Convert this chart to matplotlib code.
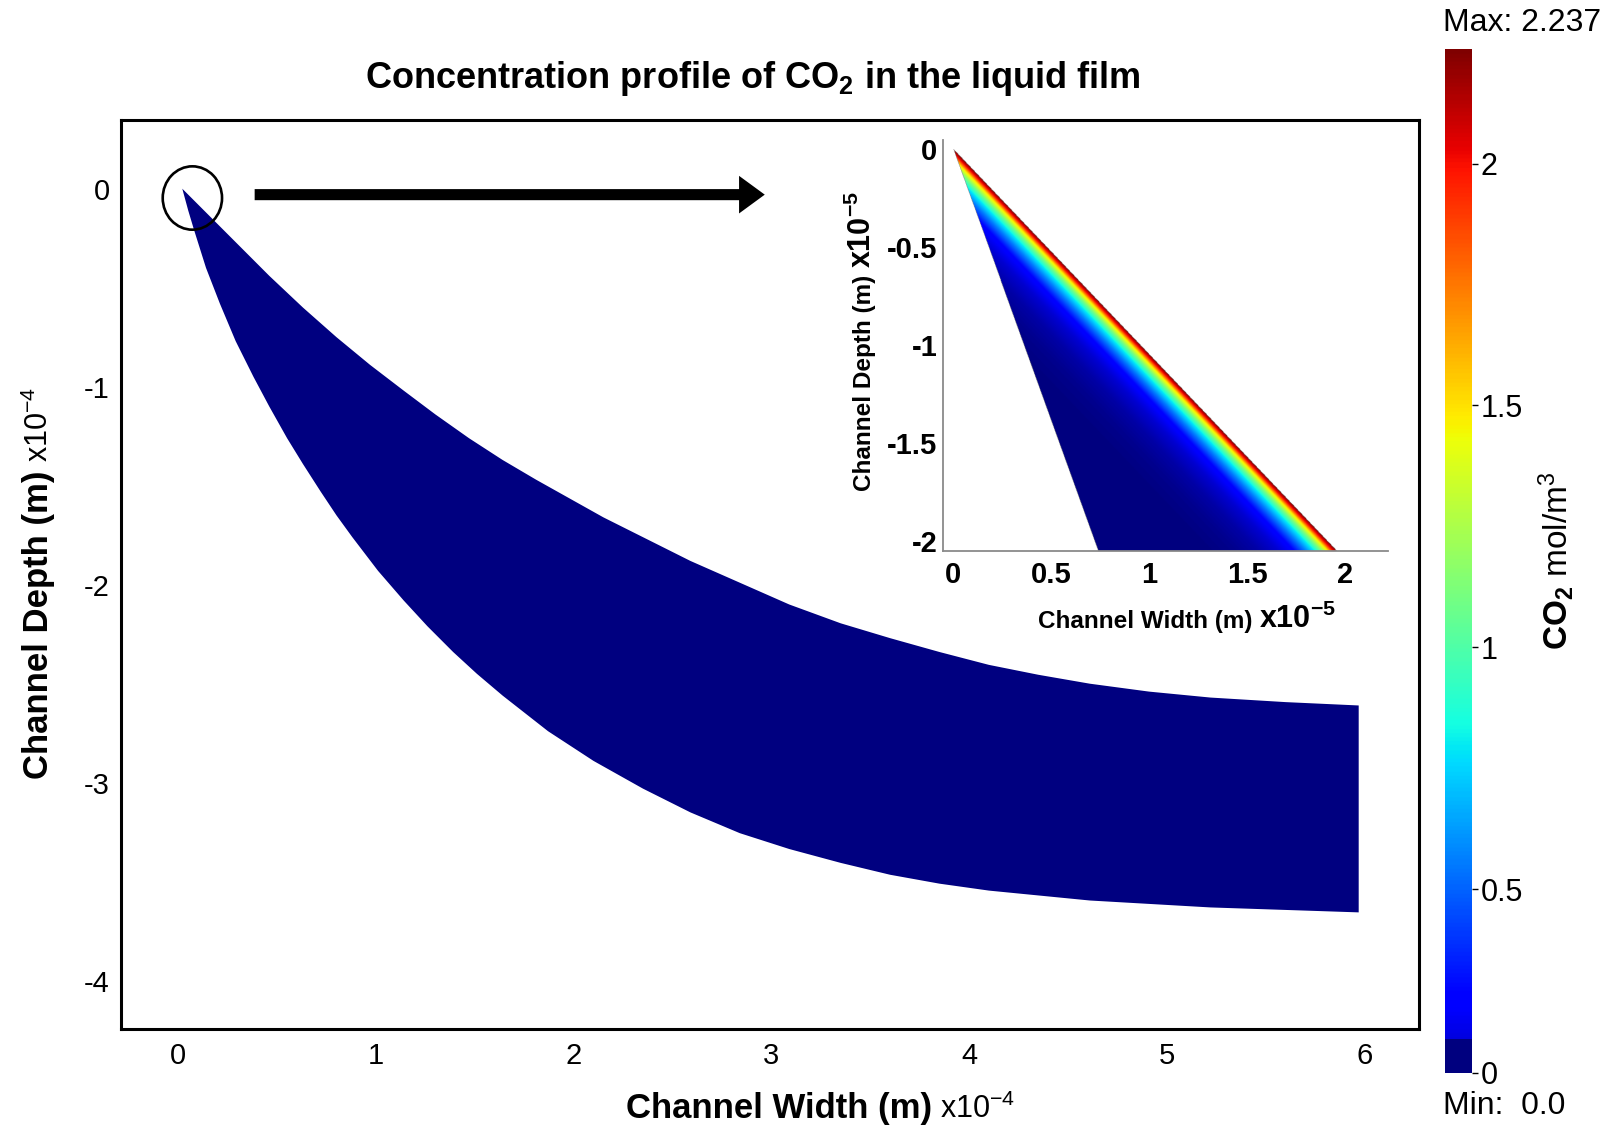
import numpy as np
import matplotlib.pyplot as plt
from matplotlib.patches import Ellipse

plt.rcParams['font.family'] = ['Liberation Sans', 'DejaVu Sans']
plt.rcParams['mathtext.fontset'] = 'custom'
plt.rcParams['mathtext.rm'] = 'Liberation Sans'
plt.rcParams['mathtext.bf'] = 'Liberation Sans:bold'
plt.rcParams['mathtext.it'] = 'Liberation Sans:italic'
plt.rcParams['axes.unicode_minus'] = False

# liquid film boundaries, x and y in units of 1e-4 m
top_x = [0.02, 0.10, 0.20, 0.33, 0.46, 0.63, 0.80, 0.97, 1.14, 1.30, 1.47, 1.64, 1.81, 1.98, 2.15,
         2.37, 2.59, 2.84, 3.09, 3.35, 3.60, 3.85, 4.10, 4.35, 4.61, 4.91, 5.22, 5.60, 5.97]
top_y = [0.0, -0.08, -0.18, -0.31, -0.44, -0.60, -0.75, -0.89, -1.02, -1.14, -1.26, -1.37, -1.47, -1.565, -1.66,
         -1.77, -1.88, -1.99, -2.10, -2.195, -2.27, -2.34, -2.405, -2.455, -2.50, -2.54, -2.57, -2.593, -2.61]
wall_x = [0.02, 0.05, 0.08, 0.14, 0.21, 0.29, 0.38, 0.46, 0.55, 0.63, 0.72, 0.80, 0.88, 1.01, 1.14, 1.26,
          1.39, 1.51, 1.64, 1.87, 2.10, 2.35, 2.59, 2.84, 3.09, 3.35, 3.60, 3.85, 4.10, 4.61, 5.22, 5.97]
wall_y = [0.0, -0.11, -0.21, -0.40, -0.58, -0.77, -0.95, -1.10, -1.26, -1.39, -1.53, -1.65, -1.76, -1.93, -2.08, -2.21,
          -2.34, -2.45, -2.56, -2.74, -2.89, -3.03, -3.15, -3.255, -3.335, -3.405, -3.465, -3.51, -3.545, -3.595, -3.63, -3.655]

# inlet region (inset), units of 1e-5 m
tip_depth = [0.0, 2.05]
tip_interface_x = [0.0, 1.96]
tip_wall_x = [0.0, 0.74]

# CO2 concentration (mol/m3) vs horizontal distance from the interface (1e-5 m)
prof_dist = [0.0, 0.02, 0.045, 0.08, 0.115, 0.16, 0.22, 0.30, 0.40, 0.52, 0.68, 3.0]
prof_conc = [2.237, 2.0, 1.5, 1.1, 0.8, 0.55, 0.27, 0.16, 0.08, 0.03, 0.0, 0.0]

c_min, c_max = 0.0, 2.237
cb_bottom = 0.12     # value at the lower edge of the colour bar
cb_band = 0.19       # top of the dark "min" band
cb_ticks = [0, 0.5, 1, 1.5, 2]

W, H = 1610, 1128
fig = plt.figure(figsize=(W / 100, H / 100), dpi=100)


def box(l, t, r, b):
    return [l / W, 1 - b / H, (r - l) / W, (b - t) / H]


cmap = plt.get_cmap('jet')

# ---- main plot
ax = fig.add_axes(box(121, 120, 1419, 1029))
px = np.concatenate([top_x, wall_x[::-1]])
py = np.concatenate([top_y, wall_y[::-1]])
ax.fill(px, py, color=cmap(0.0), lw=0)
ax.set_xlim(-0.29, 6.275)
ax.set_ylim(-4.244, 0.347)
ax.set_xticks(range(7))
ax.set_yticks([0, -1, -2, -3, -4])
ax.tick_params(length=0, labelsize=21)
ax.tick_params(axis='x', pad=9)
ax.tick_params(axis='y', pad=8)
for s in ax.spines.values():
    s.set_linewidth(2.2)

ax.add_patch(Ellipse((0.071, -0.047), 0.30, 0.32, fill=False, lw=1.9, ec='k'))
ax.arrow(0.386, -0.03, 2.966 - 0.386, 0, width=0.056, head_width=0.19,
         head_length=0.13, length_includes_head=True, fc='k', ec='k', lw=0)

# ---- inset: zoom on the inlet
ins = fig.add_axes(box(943, 140, 1388, 551))
gx = np.linspace(-0.053, 2.22, 800)
gy = np.linspace(-2.05, 0.046, 800)
GX, GY = np.meshgrid(gx, gy)
depth = -GY
xr = np.interp(depth, tip_depth, tip_interface_x)
xl = np.interp(depth, tip_depth, tip_wall_x)
inside = (GX >= xl) & (GX <= xr) & (depth >= 0)
conc = np.interp(xr - GX, prof_dist, prof_conc)
conc = np.ma.masked_where(~inside, conc)
ins.imshow(conc, origin='lower', extent=[gx[0], gx[-1], gy[0], gy[-1]],
           cmap=cmap, vmin=c_min, vmax=c_max, aspect='auto', interpolation='bilinear')
ins.set_xlim(gx[0], gx[-1])
ins.set_ylim(gy[0], gy[-1])
ins.set_xticks([0, 0.5, 1, 1.5, 2])
ins.set_xticklabels(['0', '0.5', '1', '1.5', '2'])
ins.set_yticks([0, -0.5, -1, -1.5, -2])
ins.set_yticklabels(['0', '-0.5', '-1', '-1.5', '-2'])
ins.tick_params(length=0, labelsize=21)
ins.tick_params(axis='x', pad=7)
ins.tick_params(axis='y', pad=4)
for lab in ins.get_xticklabels() + ins.get_yticklabels():
    lab.set_fontweight('bold')
for side in ['top', 'right']:
    ins.spines[side].set_visible(False)
for side in ['left', 'bottom']:
    ins.spines[side].set_color('#8a8a8a')
    ins.spines[side].set_linewidth(1.3)

# ---- colour bar
cax = fig.add_axes(box(1445, 49, 1472, 1073))
ramp = np.linspace(cb_band, c_max, 512)[:, None]
cax.imshow(ramp, origin='lower', extent=[0, 1, cb_band, c_max], aspect='auto',
           cmap=cmap, vmin=c_min, vmax=c_max)
cax.imshow([[c_min]], origin='lower', extent=[0, 1, cb_bottom, cb_band], aspect='auto',
           cmap=cmap, vmin=c_min, vmax=c_max)
cax.set_xlim(0, 1)
cax.set_ylim(cb_bottom, c_max)
cax.set_xticks([])
cax.yaxis.tick_right()
cax.set_yticks([cb_bottom] + cb_ticks[1:])
cax.set_yticklabels([f'{t:g}' for t in cb_ticks])
cax.tick_params(axis='y', length=4, width=1, labelsize=22, pad=2)
for s in cax.spines.values():
    s.set_visible(False)

fig.text(1443 / W, 1 - 23 / H, f'Max: {c_max:.3f}', fontsize=23, ha='left', va='center')
fig.text(1443 / W, 1 - 1106 / H, f'Min:  {c_min:.1f}', fontsize=23, ha='left', va='center')
fig.text(1556 / W, 1 - 561 / H, r'$\mathbf{CO_2}$ mol/m$^3$', fontsize=24,
         rotation=90, ha='center', va='center')

# ---- titles and axis labels
fig.text(753 / W, 1 - 79 / H, r'Concentration profile of CO$_\mathbf{2}$ in the liquid film',
         fontsize=26, weight='bold', ha='center', va='center')

fig.text(932 / W, 1 - 1118 / H, 'Channel Width (m)', fontsize=25, weight='bold',
         ha='right', va='baseline')
fig.text(940 / W, 1 - 1118 / H, 'x10$^{-4}$', fontsize=22, ha='left', va='baseline')

fig.text(48 / W, 1 - 470 / H, 'Channel Depth (m)', fontsize=25, weight='bold',
         rotation=90, rotation_mode='anchor', ha='right', va='baseline')
fig.text(48 / W, 1 - 462 / H, 'x10$^{-4}$', fontsize=22,
         rotation=90, rotation_mode='anchor', ha='left', va='baseline')

fig.text(871 / W, 1 - 275 / H, 'Channel Depth (m)', fontsize=17.5, weight='bold',
         rotation=90, rotation_mode='anchor', ha='right', va='baseline')
fig.text(871 / W, 1 - 268 / H, r'$\mathbf{x10^{-5}}$', fontsize=22,
         rotation=90, rotation_mode='anchor', ha='left', va='baseline')

fig.text(1253 / W, 1 - 628 / H, 'Channel Width (m)', fontsize=17.5, weight='bold',
         ha='right', va='baseline')
fig.text(1259 / W, 1 - 628 / H, r'$\mathbf{x10^{-5}}$', fontsize=22, ha='left', va='baseline')

fig.savefig('out.png', dpi=100)
